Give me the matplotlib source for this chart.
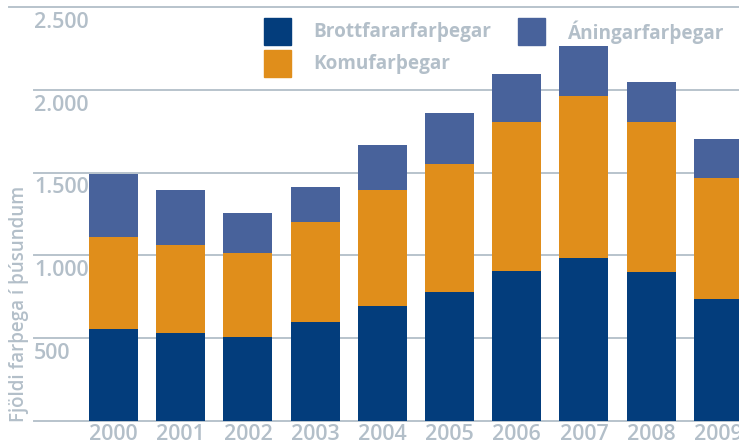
import matplotlib
matplotlib.use("Agg")
import matplotlib.pyplot as plt
import matplotlib.transforms as mtransforms
import numpy as np

years = ["2000", "2001", "2002", "2003", "2004", "2005", "2006", "2007", "2008", "2009"]
brottfarar = [554, 530, 506, 597, 693, 778, 905, 984, 899, 736]
komu = [557, 532, 508, 605, 702, 774, 901, 980, 907, 732]
aning = [381, 333, 242, 211, 272, 309, 291, 302, 242, 236]
yticks = [500, 1000, 1500, 2000, 2500]
ytick_labels = ["500", "1.000", "1.500", "2.000", "2.500"]
series_names = ["Brottfararfarþegar", "Komufarþegar", "Áningarfarþegar"]

c_dark = "#033d7c"
c_orange = "#e08e1b"
c_mid = "#48629b"
c_text = "#b3bfc9"
c_grid = "#b8c3cc"

plt.rcParams['font.family'] = ['Open Sans', 'DejaVu Sans']

W, H = 739, 445
fig = plt.figure(figsize=(W / 100, H / 100), dpi=100)
ax_left = 34 / W
ax_bottom = (H - 420.7) / H
ax_top = (H - 7.3) / H
ax = fig.add_axes([ax_left, ax_bottom, 1 - ax_left, ax_top - ax_bottom])

x = np.arange(len(years))
b = np.array(brottfarar)
k = np.array(komu)
a = np.array(aning)
width = 0.73
ax.bar(x, b, width, color=c_dark, zorder=3)
ax.bar(x, k, width, bottom=b, color=c_orange, zorder=3)
ax.bar(x, a, width, bottom=b + k, color=c_mid, zorder=3)

step = 67.2
ax.set_xlim(-(113.5 - 34) / step, (739 - 113.5) / step)
ax.set_ylim(0, 2500)

# gridlines
for v in [0] + yticks[:-1]:
    ax.axhline(v, color=c_grid, lw=1.4, zorder=1, clip_on=False)
trans = mtransforms.blended_transform_factory(ax.transAxes, ax.transData)
ax.plot([(9 - 34) / (W - 34), 1], [2500, 2500], transform=trans, color=c_grid,
        lw=1.4, zorder=1, clip_on=False)

for sp in ax.spines.values():
    sp.set_visible(False)
ax.set_xticks([])
ax.set_yticks([])

# y tick labels inside, below gridlines
for v, lab in zip(yticks, ytick_labels):
    ax.text(0.0, v - 28, lab, transform=trans, ha='left', va='top',
            fontsize=15.5, fontweight='semibold', color=c_text, zorder=4)

# x labels
for xi, yr in zip(x, years):
    ax.text(xi, -18, yr, ha='center', va='top', fontsize=15.5, fontweight='semibold',
            color=c_text, transform=ax.transData, clip_on=False)

# y label
fig.text(19 / W, 1 - 304 / H, "Fjöldi farþega í þúsundum", rotation=90,
         ha='center', va='center', fontsize=13.5, fontweight='semibold', color=c_text)

# legend
def legend_item(px, py, color, label):
    fig.patches.append(plt.Rectangle((px / W, 1 - (py + 27) / H), 27 / W, 27 / H,
                                     transform=fig.transFigure, color=color, figure=fig))
    fig.text((px + 49) / W, 1 - (py + 14) / H, label, ha='left', va='center',
             fontsize=13.7, fontweight='bold', color=c_text)

legend_item(264, 18, c_dark, series_names[0])
legend_item(264, 50, c_orange, series_names[1])
legend_item(518, 18, c_mid, series_names[2])

fig.savefig("out.png", dpi=100)
